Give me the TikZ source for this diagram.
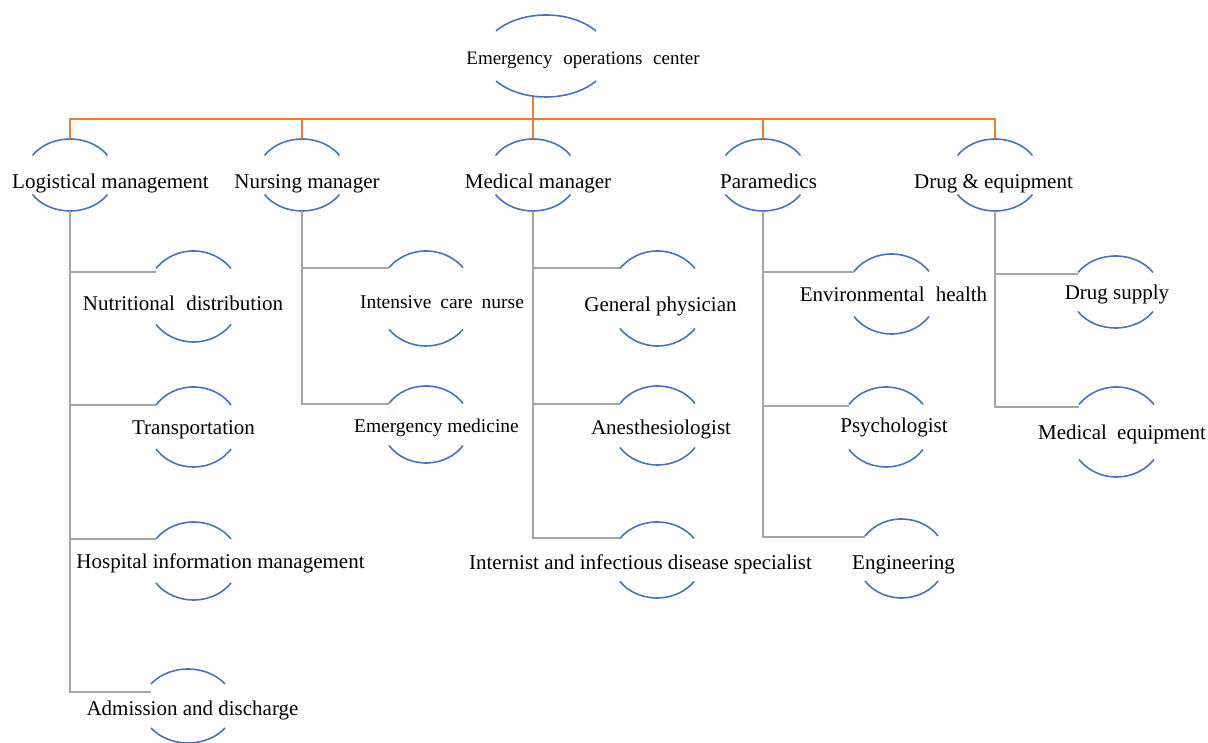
\documentclass[tikz,border=0pt]{standalone}
\usepackage{fontspec}
\setmainfont{Liberation Serif}
\definecolor{arcblue}{HTML}{4472C4}
\definecolor{busorange}{HTML}{ED7D31}
\definecolor{linkgray}{HTML}{A5A5A5}
\tikzset{
  arcline/.style={draw=arcblue, line width=1.6pt},
  orgline/.style={draw=busorange, line width=2pt},
  grayline/.style={draw=linkgray, line width=2pt},
  lbl/.style={inner sep=0pt, anchor=base, yshift=-1.5pt, text=black, font=\fontsize{21}{25}\selectfont},
  lblsmall/.style={lbl, font=\fontsize{19.5}{23}\selectfont},
  lbltop/.style={lbl, font=\fontsize{19}{23}\selectfont},
}
% A pair of facing arcs around a label.
% #1 name, #2 centre x, #3 centre y (measured from the top edge),
% #4 half width, #5 half height, #6 height of the arc ends above/below the centre
\newcommand\arcpair[6]{%
  \coordinate (#1-c) at (#2, 743-#3);
  \coordinate (#1-top) at (#2, 743-#3+#5);
  \coordinate (#1-bot) at (#2, 743-#3-#5);
  \draw[arcline] (#2-#4, 743-#3+#6)
    arc[start angle={180-asin(#6/#5)}, end angle={asin(#6/#5)},
        x radius={#4/cos(asin(#6/#5))}, y radius=#5];
  \draw[arcline] (#2-#4, 743-#3-#6)
    arc[start angle={180+asin(#6/#5)}, end angle={360-asin(#6/#5)},
        x radius={#4/cos(asin(#6/#5))}, y radius=#5];
}
\begin{document}
\begin{tikzpicture}[x=1pt, y=1pt]
\useasboundingbox (0,0) rectangle (1208,743);

% ---- root ----
\arcpair{eoc}{546}{56}{50}{41}{25}
\node[lbltop] (t-eoc) at (583, 743-63) {Emergency\hspace{6pt} operations\hspace{6pt} center};
\coordinate (eoc-out) at (533, 743-97);
\coordinate (bus) at (533, 743-119);

% ---- first level ----
\arcpair{log}{70}{175}{37.5}{36}{19.5}
\arcpair{nur}{302}{175}{37.5}{36}{19.5}
\arcpair{med}{533}{175}{37.5}{36}{19.5}
\arcpair{par}{763}{175}{37.5}{36}{19.5}
\arcpair{drg}{995}{175}{37.5}{36}{19.5}
\node[lbl] (t-log) at (110.5, 743-187) {Logistical management};
\node[lbl] (t-nur) at (307, 743-187) {Nursing manager};
\node[lbl] (t-med) at (538, 743-187) {Medical manager};
\node[lbl] (t-par) at (768.5, 743-187) {Paramedics};
\node[lbl] (t-drg) at (993.5, 743-187) {Drug \& equipment};

% ---- logistics branch ----
\arcpair{nut}{193.5}{296.5}{37.5}{45.5}{28}
\arcpair{tra}{193.5}{427}{37.5}{40}{22}
\arcpair{his}{193.5}{561}{37.5}{39}{22}
\arcpair{adm}{188}{706}{37}{37}{22}
\coordinate (nut-in) at (156, 743-272);
\coordinate (tra-in) at (156, 743-405);
\coordinate (his-in) at (156, 743-539);
\coordinate (adm-in) at (151, 743-692);
\node[lbl] (t-nut) at (183, 743-309) {Nutritional\hspace{6pt} distribution};
\node[lbl] (t-tra) at (193.5, 743-433) {Transportation};
\node[lbl] (t-his) at (220.5, 743-567) {Hospital information management};
\node[lbl] (t-adm) at (192.5, 743-714) {Admission and discharge};

% ---- nursing branch ----
\arcpair{int}{426}{298.5}{37}{47.5}{31}
\arcpair{emm}{426}{424.5}{37}{38.5}{21}
\coordinate (int-in) at (389, 743-268);
\coordinate (emm-in) at (389, 743-404);
\node[lblsmall] (t-int) at (442, 743-307) {Intensive\hspace{4pt} care\hspace{4pt} nurse};
\node[lblsmall] (t-emm) at (436.5, 743-431) {Emergency medicine};

% ---- medical branch ----
\arcpair{gen}{657.5}{298.5}{37.5}{47.5}{30}
\arcpair{ane}{657.5}{425.5}{37.5}{39.5}{22}
\arcpair{inf}{657}{560}{37}{38}{21.5}
\coordinate (gen-in) at (620, 743-268);
\coordinate (ane-in) at (620, 743-404);
\coordinate (inf-in) at (620, 743-538);
\node[lbl] (t-gen) at (660.5, 743-310) {General physician};
\node[lbl] (t-ane) at (661, 743-433) {Anesthesiologist};
\node[lbl] (t-inf) at (640.5, 743-568) {Internist and infectious disease specialist};

% ---- paramedics branch ----
\arcpair{env}{891.5}{294}{37.5}{40}{22.5}
\arcpair{psy}{886}{427}{37}{40}{22.5}
\arcpair{eng}{901.5}{558.5}{36.5}{39.5}{22.5}
\coordinate (env-in) at (854, 743-272);
\coordinate (psy-in) at (849, 743-406);
\coordinate (eng-in) at (865, 743-537);
\node[lbl] (t-env) at (893.5, 743-300) {Environmental\hspace{6pt} health};
\node[lbl] (t-psy) at (894, 743-431) {Psychologist};
\node[lbl] (t-eng) at (903.5, 743-568) {Engineering};

% ---- drugs branch ----
\arcpair{dsu}{1115.5}{292}{37.5}{36}{19.5}
\arcpair{meq}{1116.5}{432}{37.5}{45}{27.5}
\coordinate (dsu-in) at (1078, 743-274);
\coordinate (meq-in) at (1079, 743-407);
\node[lbl] (t-dsu) at (1117, 743-298) {Drug supply};
\node[lbl] (t-meq) at (1122, 743-438) {Medical\hspace{5pt} equipment};

% ---- connectors ----
\draw[orgline] (eoc-out) -- (bus);
\foreach \k in {log,nur,med,par,drg}
  \draw[orgline] (bus) -| (\k-top);

\foreach \p/\c in {log/nut, log/tra, log/his, log/adm,
                   nur/int, nur/emm,
                   med/gen, med/ane, med/inf,
                   par/env, par/psy, par/eng,
                   drg/dsu, drg/meq}
  \draw[grayline] (\p-bot) |- (\c-in);
\end{tikzpicture}
\end{document}
